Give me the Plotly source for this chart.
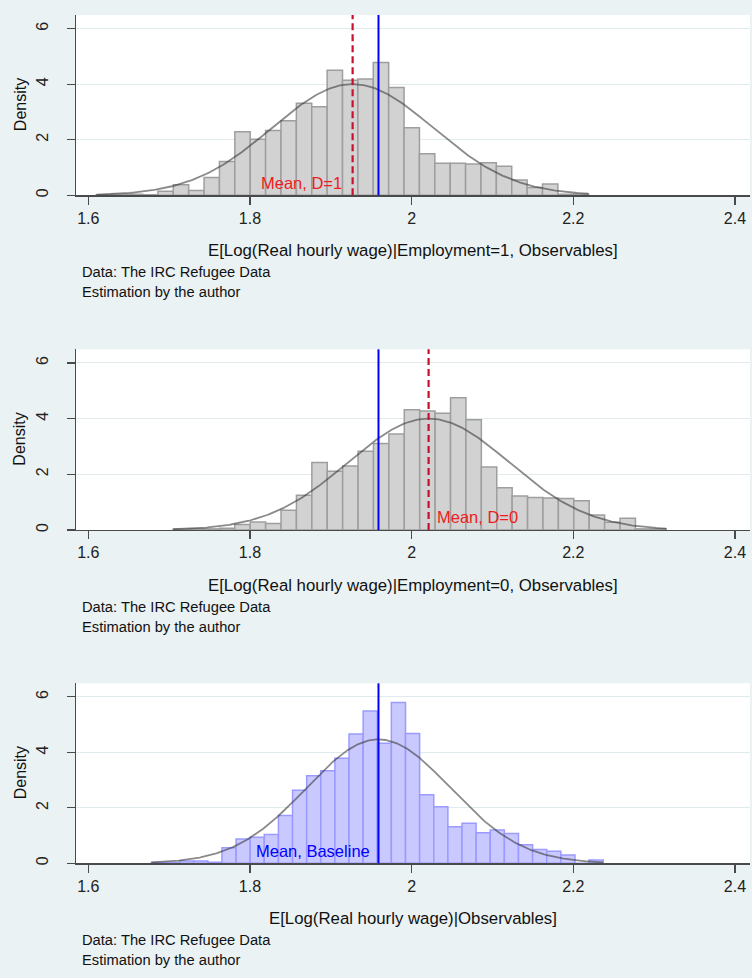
import numpy as np
import plotly.graph_objects as go

# ---------------- data ----------------
# Panel 1: E[Log wage | Employment=1, Observables]
p1_min, p1_max = 1.610, 2.219
p1_heights = [0.02, 0.04, 0.04, 0.02, 0.15, 0.38, 0.17, 0.64, 1.22, 2.29, 2.02, 2.33,
              2.68, 3.31, 3.19, 4.50, 4.14, 4.19, 4.78, 3.88, 2.43, 1.50, 1.15, 1.15,
              1.13, 1.17, 1.05, 0.55, 0.28, 0.41, 0.04, 0.04]
p1_mean, p1_sd = 1.927, 0.0997

# Panel 2: E[Log wage | Employment=0, Observables]
p2_min, p2_max = 1.705, 2.315
p2_heights = [0.03, 0.04, 0.04, 0.06, 0.20, 0.29, 0.23, 0.71, 1.25, 2.42, 2.11, 2.30,
              2.83, 3.11, 3.45, 4.32, 4.27, 4.19, 4.75, 3.96, 2.26, 1.52, 1.22, 1.17,
              1.15, 1.13, 1.05, 0.54, 0.28, 0.42, 0.04, 0.04]
p2_mean, p2_sd = 2.021, 0.0997

# Panel 3: E[Log wage | Observables]
p3_min, p3_max = 1.678, 2.237
p3_heights = [0.03, 0.03, 0.08, 0.08, 0.04, 0.56, 0.88, 0.94, 1.04, 1.72, 2.63, 3.16,
              3.34, 3.79, 4.66, 5.49, 4.33, 5.80, 4.68, 2.47, 2.04, 1.32, 1.44, 1.10,
              1.20, 1.07, 0.67, 0.50, 0.43, 0.30, 0.00, 0.12]
p3_mean, p3_sd = 1.959, 0.0893

baseline_mean = 1.959

x_ticks = [1.6, 1.8, 2.0, 2.2, 2.4]
x_tick_labels = ["1.6", "1.8", "2", "2.2", "2.4"]
y_ticks = [0, 2, 4, 6]
y_tick_labels = ["0", "2", "4", "6"]

x_titles = ["E[Log(Real hourly wage)|Employment=1, Observables]",
            "E[Log(Real hourly wage)|Employment=0, Observables]",
            "E[Log(Real hourly wage)|Observables]"]
note_lines = ["Data: The IRC Refugee Data", "Estimation by the author"]
mean_labels = ["Mean, D=1", "Mean, D=0", "Mean, Baseline"]

# ---------------- figure ----------------
W, H = 752, 978
BG = "#eaf2f3"
FONT = "Liberation Sans, Arial, sans-serif"

fig = go.Figure()

panels = [
    dict(mn=p1_min, mx=p1_max, h=p1_heights, mu=p1_mean, sd=p1_sd,
         fill="#d2d2d2", line="#9e9e9e", top=15.0, zero=195.3),
    dict(mn=p2_min, mx=p2_max, h=p2_heights, mu=p2_mean, sd=p2_sd,
         fill="#d2d2d2", line="#9e9e9e", top=349.3, zero=530.0),
    dict(mn=p3_min, mx=p3_max, h=p3_heights, mu=p3_mean, sd=p3_sd,
         fill="#c9c9ff", line="#9a9aff", top=683.3, zero=863.3),
]

x_left_px, x_right_px = 76.0, 750.0
x_range = [1.5848, 2.4186]

def py(px):
    return 1 - px / H

for i, p in enumerate(panels):
    n = len(p["h"])
    w = (p["mx"] - p["mn"]) / n
    centers = p["mn"] + w * (np.arange(n) + 0.5)
    xa = "x" if i == 0 else f"x{i+1}"
    ya = "y" if i == 0 else f"y{i+1}"
    fig.add_trace(go.Bar(x=centers, y=p["h"], width=[w] * n, xaxis=xa, yaxis=ya,
                         marker=dict(color=p["fill"], line=dict(color=p["line"], width=1.5)),
                         showlegend=False, hoverinfo="skip"))
    xs = np.linspace(p["mn"], p["mx"], 300)
    ys = np.exp(-0.5 * ((xs - p["mu"]) / p["sd"]) ** 2) / (p["sd"] * np.sqrt(2 * np.pi))
    fig.add_trace(go.Scatter(x=xs, y=ys, mode="lines", xaxis=xa, yaxis=ya,
                             line=dict(color="rgba(60,60,60,0.6)", width=1.8),
                             showlegend=False, hoverinfo="skip"))

    dom_y = [py(p["zero"]), py(p["top"])]
    axis_common = dict(showline=True, linecolor="#4a4a4a", linewidth=1.2,
                       ticks="outside", ticklen=8, tickcolor="#4a4a4a", tickwidth=1.2,
                       tickfont=dict(family=FONT, size=16, color="#222"),
                       automargin=False)
    fig.layout[("xaxis" if i == 0 else f"xaxis{i+1}")] = dict(
        domain=[x_left_px / W, x_right_px / W], range=x_range, anchor=ya,
        tickvals=x_ticks, ticktext=x_tick_labels, showgrid=False, zeroline=False,
        **axis_common)
    fig.layout[("yaxis" if i == 0 else f"yaxis{i+1}")] = dict(
        domain=dom_y, range=[0, 6.49], anchor=xa,
        tickvals=y_ticks, ticktext=y_tick_labels, tickangle=-90,
        ticklabelstandoff=12,
        showgrid=True, gridcolor="#e1eaed", gridwidth=1, zeroline=False,
        **axis_common)

    # x axis title and notes
    fig.add_annotation(x=(x_left_px + x_right_px) / 2 / W, y=py(p["zero"] + 55),
                       xref="paper", yref="paper", text=x_titles[i], showarrow=False,
                       font=dict(family=FONT, size=16.8, color="#111"),
                       xanchor="center", yanchor="middle")
    fig.add_annotation(x=80 / W, y=py(p["zero"] + 76.5), xref="paper", yref="paper",
                       text=note_lines[0], showarrow=False,
                       font=dict(family=FONT, size=14.7, color="#111"),
                       xanchor="left", yanchor="middle")
    fig.add_annotation(x=80 / W, y=py(p["zero"] + 97), xref="paper", yref="paper",
                       text=note_lines[1], showarrow=False,
                       font=dict(family=FONT, size=14.7, color="#111"),
                       xanchor="left", yanchor="middle")
    fig.add_annotation(x=20 / W, y=py((p["zero"] + p["top"]) / 2), xref="paper",
                       yref="paper", text="Density", textangle=-90, showarrow=False,
                       font=dict(family=FONT, size=16, color="#111"),
                       xanchor="center", yanchor="middle")

    yd = f"{ya} domain"
    # baseline mean (blue)
    fig.add_shape(type="line", xref=xa, yref=yd, x0=baseline_mean, x1=baseline_mean,
                  y0=0, y1=1, line=dict(color="#0000ff", width=2))

# red dashed means for panels 1 and 2
fig.add_shape(type="line", xref="x", yref="y domain", x0=p1_mean, x1=p1_mean, y0=0, y1=1,
              line=dict(color="#c8102e", width=2.2, dash="7px,4px"))
fig.add_shape(type="line", xref="x2", yref="y2 domain", x0=p2_mean, x1=p2_mean, y0=0, y1=1,
              line=dict(color="#c8102e", width=2.2, dash="7px,4px"))

fig.add_annotation(x=p1_mean - 0.011, y=0.45, xref="x", yref="y", text=mean_labels[0],
                   showarrow=False, xanchor="right", yanchor="middle",
                   font=dict(family=FONT, size=16.5, color="#ee1c1c"))
fig.add_annotation(x=p2_mean + 0.008, y=0.48, xref="x2", yref="y2", text=mean_labels[1],
                   showarrow=False, xanchor="left", yanchor="middle",
                   font=dict(family=FONT, size=16.5, color="#ee1c1c"))
fig.add_annotation(x=baseline_mean - 0.008, y=0.45, xref="x3", yref="y3", text=mean_labels[2],
                   showarrow=False, xanchor="right", yanchor="middle",
                   font=dict(family=FONT, size=16.5, color="#0000ff"))

fig.update_layout(width=W, height=H, margin=dict(l=0, r=0, t=0, b=0, autoexpand=False),
                  paper_bgcolor=BG, plot_bgcolor="white", bargap=0,
                  showlegend=False, font=dict(family=FONT))

fig.write_html("out.html",
               config={"displayModeBar": False, "staticPlot": True},
               post_script="document.body.style.margin='0';"
                           "document.body.style.padding='0';"
                           "document.body.style.overflow='hidden';"
                           "document.documentElement.style.overflow='hidden';")
